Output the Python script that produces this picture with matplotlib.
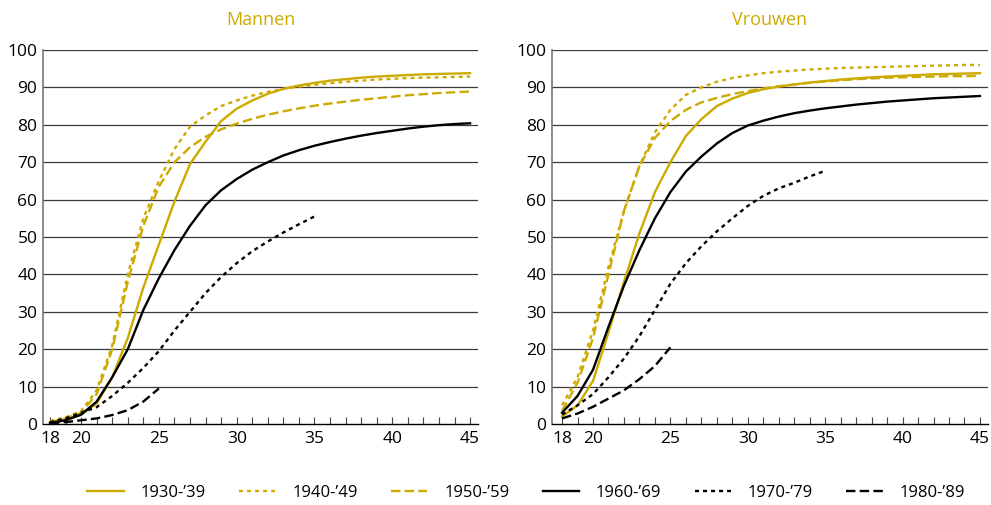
import matplotlib
matplotlib.use("Agg")
import matplotlib.pyplot as plt
import numpy as np

plt.rcParams['font.family'] = ['Open Sans', 'DejaVu Sans']

ages = list(range(18, 46))
cohorts = ["1930-\u201939", "1940-\u201949", "1950-\u201959", "1960-\u201969", "1970-\u201979", "1980-\u201989"]

# Mannen
m_1930 = [0.5, 1.2, 2.5, 5.5, 12.5, 23, 36.5, 48, 59.5, 69.5, 75.5, 81, 84.3, 86.5, 88.3, 89.6, 90.5, 91.2, 91.8, 92.2, 92.6, 92.9, 93.1, 93.3, 93.5, 93.6, 93.7, 93.8]
m_1940 = [0.8, 1.8, 3.5, 9, 21, 40, 55, 65, 73.5, 79.5, 82.5, 85, 86.5, 87.8, 88.8, 89.6, 90.2, 90.7, 91.1, 91.5, 91.8, 92.1, 92.3, 92.5, 92.6, 92.7, 92.8, 92.9]
m_1950 = [0.5, 1.5, 3, 8, 20, 38, 53, 63.5, 70, 74, 76.8, 78.8, 80.3, 81.6, 82.7, 83.6, 84.4, 85.1, 85.7, 86.2, 86.7, 87.1, 87.5, 87.9, 88.2, 88.5, 88.7, 88.9]
m_1960 = [0.3, 1, 2.5, 6, 12.5, 20, 30.5, 39, 46.5, 53, 58.5, 62.5, 65.5, 68, 70, 71.8, 73.2, 74.4, 75.4, 76.3, 77.1, 77.8, 78.4, 79, 79.5, 79.9, 80.2, 80.4]
m_1970 = [0.5, 1.5, 3, 4.5, 7.5, 11, 15, 19.5, 25, 30, 35, 39.3, 43, 46.2, 48.8, 51.2, 53.4, 55.5]
m_1980 = [0.2, 0.5, 1, 1.5, 2.4, 3.7, 6, 9.5]

# Vrouwen
v_1930 = [2, 5, 11.5, 24.5, 38, 51, 62, 70, 77, 81.5, 85, 87, 88.5, 89.5, 90.2, 90.8, 91.3, 91.7, 92.1, 92.4, 92.7, 92.9, 93.1, 93.3, 93.5, 93.6, 93.7, 93.8]
v_1940 = [5, 12.5, 25, 42, 57, 69, 78, 84, 88, 90, 91.5, 92.5, 93.2, 93.8, 94.2, 94.5, 94.8, 95, 95.2, 95.3, 95.4, 95.5, 95.6, 95.7, 95.8, 95.9, 96, 96]
v_1950 = [3.5, 11, 23, 40, 57, 69, 76.5, 81, 84, 86, 87.2, 88.2, 89, 89.7, 90.3, 90.8, 91.2, 91.6, 91.9, 92.2, 92.4, 92.6, 92.7, 92.8, 92.9, 93, 93, 93.1]
v_1960 = [3, 7.5, 14.5, 26, 37, 46.5, 55, 62, 67.5, 71.5, 75, 77.8, 79.8, 81.1, 82.2, 83.1, 83.8, 84.4, 84.9, 85.4, 85.8, 86.2, 86.5, 86.8, 87.1, 87.3, 87.5, 87.7]
v_1970 = [2.5, 5, 8, 12.5, 17.5, 23.5, 30.5, 37.5, 43, 47.5, 51.5, 55, 58.3, 61, 63, 64.5, 66.2, 67.7]
v_1980 = [1.5, 2.8, 4.6, 6.8, 9, 12, 15.5, 20.5]

gold = '#CCAA00'
dot = (0, (1.7, 1.7))
dash = (0, (4.0, 1.8))
styles = [
    dict(color=gold, ls='-'),
    dict(color=gold, ls=dot),
    dict(color=gold, ls=dash),
    dict(color='black', ls='-'),
    dict(color='black', ls=dot),
    dict(color='black', ls=dash),
]

fig = plt.figure(figsize=(9.91, 5.05), dpi=100)
W, H = 991, 505
axL = fig.add_axes([43 / W, 81 / H, 435 / W, 374 / H])
axR = fig.add_axes([552 / W, 81 / H, 436 / W, 374 / H])

panels = [
    (axL, "Mannen", [m_1930, m_1940, m_1950, m_1960, m_1970, m_1980], (17.55, 45.51)),
    (axR, "Vrouwen", [v_1930, v_1940, v_1950, v_1960, v_1970, v_1980], (17.35, 45.52)),
]

handles = []
for ax, title, series, xl in panels:
    hs = []
    for s, st, lab in zip(series, styles, cohorts):
        h, = ax.plot(ages[:len(s)], s, lw=1.7, label=lab, **st, zorder=3)
        hs.append(h)
    handles = hs
    ax.set_xlim(*xl)
    ax.set_ylim(0, 100)
    ax.set_yticks(range(0, 101, 10))
    for yv in range(10, 101, 10):
        ax.axhline(yv, color='#3a3a3a', lw=0.9, zorder=1)
    ax.set_xticks([18, 20, 25, 30, 35, 40, 45])
    ax.set_xticks(ages, minor=True)
    ax.tick_params(axis='x', which='both', direction='in', length=5, width=0.8, color='#444444', labelsize=12.5, pad=5)
    ax.tick_params(axis='y', length=0, labelsize=12.5, pad=4)
    for sp in ['top', 'right']:
        ax.spines[sp].set_visible(False)
    ax.spines['left'].set_color('#777777')
    ax.spines['left'].set_linewidth(1.2)
    ax.spines['bottom'].set_color('black')
    ax.spines['bottom'].set_linewidth(1.0)
    ax.set_title(title, color=gold, fontsize=13, pad=18)

fig.legend(handles=handles, labels=cohorts, loc='center', bbox_to_anchor=(526 / W, 1 - 493 / H),
           ncol=6, frameon=False, fontsize=12, handlelength=2.2, columnspacing=2.0, handletextpad=1.0)

fig.savefig('out.png', dpi=100)
